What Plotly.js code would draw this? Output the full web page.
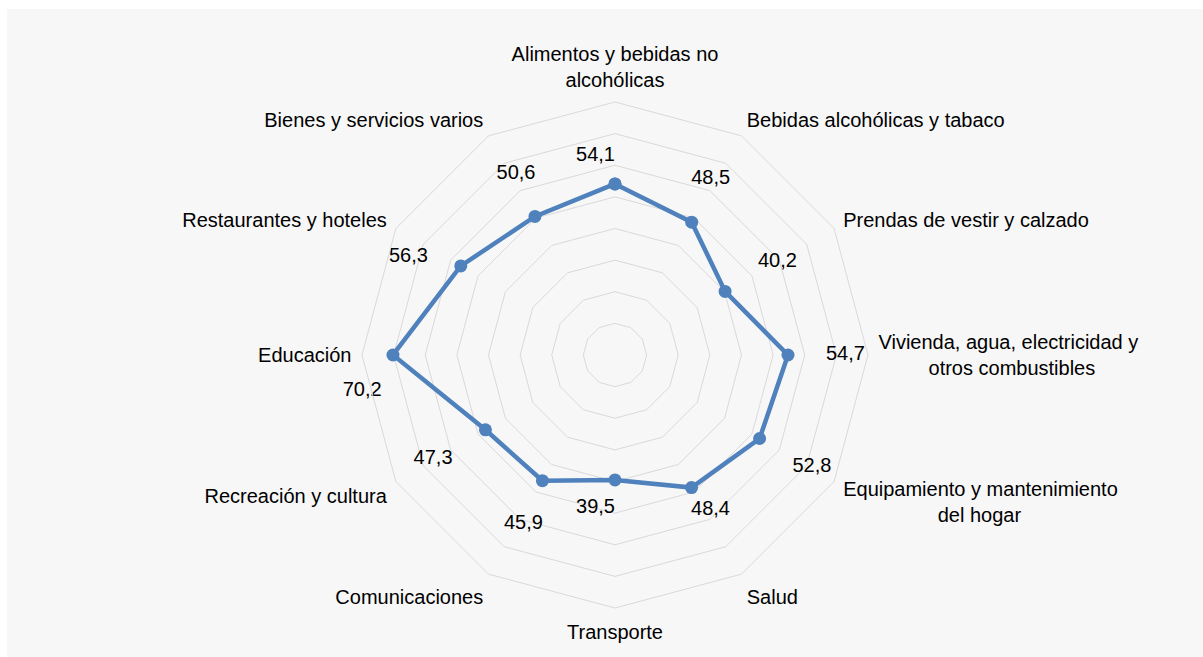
<!DOCTYPE html>
<html>
<head>
<meta charset="utf-8">
<script src="https://cdn.plot.ly/plotly-3.0.1.min.js"></script>
<style>
  html, body { margin: 0; padding: 0; background: #ffffff; }
  #chart { position: absolute; left: 7px; top: 9px; width: 1196px; height: 648px; }
</style>
</head>
<body>
<div id="chart"></div>
<script>
// ---- data ----
const NB = "\u00a0";
const categories = [
  "Alimentos y bebidas no<br>alcohólicas",
  "Bebidas alcohólicas y tabaco",
  "Prendas de vestir y calzado",
  "Vivienda, agua, electricidad y<br>" + NB.repeat(9) + "otros combustibles",
  "Equipamiento y mantenimiento<br>" + NB.repeat(17) + "del hogar",
  "Salud",
  "Transporte",
  "Comunicaciones",
  "Recreación y cultura",
  "Educación",
  "Restaurantes y hoteles",
  "Bienes y servicios varios"
];
const values = [54.1, 48.5, 40.2, 54.7, 52.8, 48.4, 39.5, 45.9, 47.3, 70.2, 56.3, 50.6];

// ---- style ----
const labelPositions = ["bottom left", "top center", "top right", "middle right", "bottom right",
  "top center", "top left", "bottom center", "bottom left", "bottom center", "bottom left", "top center"];
// extra leading line break to push a label further down (layout only)
const labelPrefix = ["", "", "", "", "", "", "", "", "", "<br>", "", ""];
const LABEL_PAD = 12;
const R_MAX = 80;
const FONT = "Liberation Sans, Arial, Helvetica, sans-serif";
const BLUE = "#4f81bd";
const GRID = "#d9d9d9";

const labelText = values.map((v, i) => labelPrefix[i] + v.toFixed(1).replace(".", ","));

const traces = [
  {
    type: "scatterpolar",
    r: values.concat([values[0]]),
    theta: categories.concat([categories[0]]),
    mode: "lines+markers",
    line: { color: BLUE, width: 4.5 },
    marker: { color: BLUE, size: 13 },
    hoverinfo: "skip",
    showlegend: false
  },
  {
    type: "scatterpolar",
    r: values.map(v => Math.min(v + LABEL_PAD, R_MAX - 0.05)),
    theta: categories,
    mode: "text",
    text: labelText,
    textposition: labelPositions,
    textfont: { family: FONT, size: 20, color: "#000000" },
    cliponaxis: false,
    hoverinfo: "skip",
    showlegend: false
  }
];

const layout = {
  width: 1196,
  height: 648,
  margin: { l: 0, r: 0, t: 0, b: 0 },
  paper_bgcolor: "#f7f7f7",
  font: { family: FONT, size: 20, color: "#000000" },
  showlegend: false,
  polar: {
    domain: { x: [0.2968, 0.7199], y: [0.0756, 0.8565] },
    bgcolor: "rgba(0,0,0,0)",
    gridshape: "linear",
    radialaxis: {
      range: [0, R_MAX],
      dtick: 10,
      tick0: 0,
      showticklabels: false,
      ticks: "",
      showline: false,
      gridcolor: GRID,
      gridwidth: 1
    },
    angularaxis: {
      type: "category",
      categoryorder: "array",
      categoryarray: categories,
      direction: "clockwise",
      rotation: 90,
      showgrid: false,
      showline: true,
      linecolor: GRID,
      linewidth: 1,
      ticks: "outside",
      ticklen: 6,
      tickcolor: "rgba(0,0,0,0)",
      tickfont: { family: FONT, size: 20, color: "#000000" }
    }
  }
};

Plotly.newPlot("chart", traces, layout, { displayModeBar: false, staticPlot: true });
</script>
</body>
</html>
